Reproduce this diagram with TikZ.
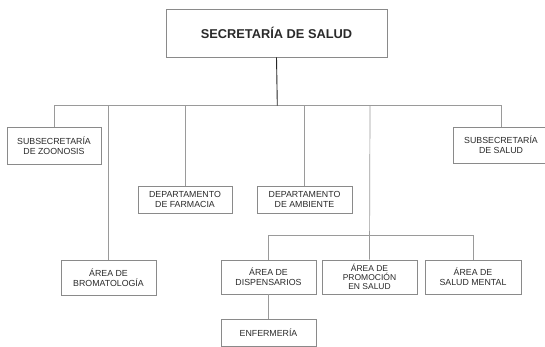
\documentclass[tikz,border=0pt]{standalone}
\usepackage{fontspec}
\setmainfont{Liberation Sans}
\definecolor{boxline}{HTML}{8A8A8A}
\definecolor{conline}{HTML}{9A9A9A}
\definecolor{txt}{HTML}{2A2A2A}
\begin{document}
\begin{tikzpicture}[x=1pt,y=-1pt,
  unit/.style={draw=boxline,line width=0.8pt,fill=white,text=txt,align=center,inner sep=0pt,
    font=\fontsize{8.8}{10.2}\selectfont},
  conn/.style={draw=conline,line width=0.7pt},
  mainconn/.style={draw=black!85,line width=0.9pt}]
\useasboundingbox (0,0) rectangle (545,347);
\fill[white] (0,0) rectangle (545,347);
% nodes
\node[unit,minimum width=221pt,minimum height=48pt,font=\fontsize{12.8}{14}\selectfont\bfseries] (top) at (276.5,33) {SECRETARÍA DE SALUD};
\node[unit,minimum width=94pt,minimum height=37pt] (zoo) at (54,145.5) {SUBSECRETARÍA\\DE ZOONOSIS};
\node[unit,minimum width=94pt,minimum height=27pt] (farm) at (185,199.5) {DEPARTAMENTO\\DE FARMACIA};
\node[unit,minimum width=95pt,minimum height=27pt] (amb) at (304.5,199.5) {DEPARTAMENTO\\DE AMBIENTE};
\node[unit,minimum width=96pt,minimum height=36pt] (ssal) at (501,145) {SUBSECRETARÍA\\DE SALUD};
\node[unit,minimum width=95pt,minimum height=35pt] (brom) at (108.5,277.5) {ÁREA DE\\BROMATOLOGÍA};
\node[unit,minimum width=95pt,minimum height=34pt] (disp) at (268.5,277) {ÁREA DE\\DISPENSARIOS};
\node[unit,minimum width=95pt,minimum height=34pt,font=\fontsize{8.5}{8.9}\selectfont] (prom) at (369.5,277) {ÁREA DE\\PROMOCIÓN\\EN SALUD};
\node[unit,minimum width=96pt,minimum height=34pt] (ment) at (473,277) {ÁREA DE\\SALUD MENTAL};
\node[unit,minimum width=95pt,minimum height=27pt] (enf) at (268.5,332.5) {ENFERMERÍA};
% bus coordinates
\coordinate (bus) at (277.3,105.5);
\coordinate (bustwo) at (370,235);
\coordinate (pdrop) at (370,105.5);
% connectors
\draw[conn] (zoo.north) |- (ssal.north |- bus) -- (ssal.north);
\draw[conn] (brom.north) -- (brom.north |- bus);
\draw[conn] (farm.north) -- (farm.north |- bus);
\draw[conn] (amb.north) -- (amb.north |- bus);
\draw[conn] (pdrop) -- (prom.north);
\draw[conn] (disp.north) |- (ment.north |- bustwo) -- (ment.north);
\draw[conn] (disp.south) -- (enf.north);
\draw[mainconn] (top.south) -- (bus);
\end{tikzpicture}
\end{document}
